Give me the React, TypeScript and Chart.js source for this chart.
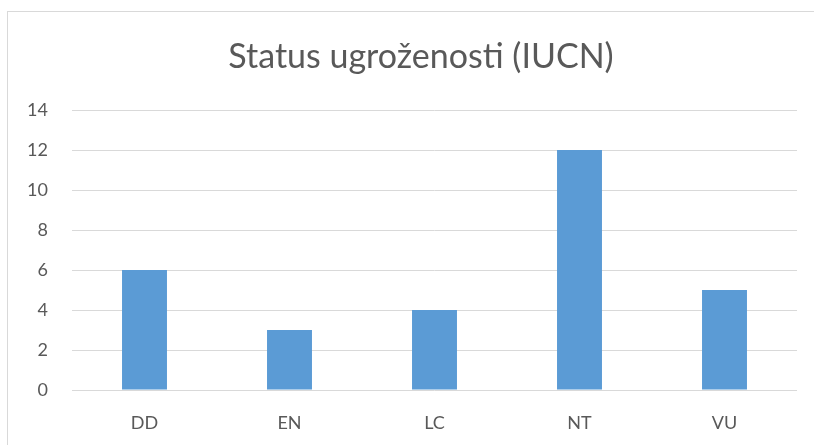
import React, { useEffect, useRef } from "react";
import { Chart, registerables } from "chart.js";

Chart.register(...registerables);

const titleText = "Status ugroženosti (IUCN)";
const categories = ["DD", "EN", "LC", "NT", "VU"];
const counts = [6, 3, 4, 12, 5];
const yMin = 0;
const yMax = 14;
const yStep = 2;

const FONT = "Lato, 'Open Sans', sans-serif";
const TEXT = "#595959";
const GRID = "#d9d9d9";
const BAR = "#5B9BD5";

const borderPlugin = {
  id: "outerBorder",
  beforeDraw(chart: any) {
    const ctx = chart.ctx;
    ctx.save();
    ctx.fillStyle = "#ffffff";
    ctx.fillRect(0, 0, chart.width, chart.height);
    ctx.strokeStyle = GRID;
    ctx.lineWidth = 1;
    ctx.strokeRect(7.5, 11.5, chart.width + 20, chart.height + 20);
    ctx.restore();
  },
};

// centre the title on the (partly cropped) chart frame rather than on the canvas
const titleShiftPlugin = {
  id: "titleShift",
  afterLayout(chart: any) {
    const t = chart.titleBlock;
    if (t) {
      t.left = 45;
      t.right = 797;
      t.width = t.right - t.left;
    }
  },
};

export default function App() {
  const ref = useRef<HTMLCanvasElement>(null);
  useEffect(() => {
    if (!ref.current) return;
    const chart = new Chart(ref.current, {
      type: "bar",
      data: {
        labels: categories,
        datasets: [
          {
            data: counts,
            backgroundColor: BAR,
            barPercentage: 0.31,
            categoryPercentage: 1,
          },
        ],
      },
      options: {
        animation: false,
        responsive: false,
        maintainAspectRatio: false,
        layout: { padding: { left: 0, right: 17, top: 0, bottom: 0 } },
        plugins: {
          legend: { display: false },
          tooltip: { enabled: false },
          title: {
            display: true,
            text: titleText,
            color: TEXT,
            font: { family: FONT, size: 34, weight: "normal", lineHeight: 1.2 },
            padding: { top: 37, bottom: 32.2 },
          },
        },
        scales: {
          x: {
            grid: { display: false, drawTicks: false },
            border: { display: false },
            ticks: {
              color: TEXT,
              font: { family: FONT, size: 18 },
              padding: 22,
            },
            afterFit: (s: any) => {
              s.height = 55;
            },
          },
          y: {
            min: yMin,
            max: yMax,
            ticks: {
              stepSize: yStep,
              color: TEXT,
              font: { family: FONT, size: 18 },
              padding: 24,
            },
            grid: { color: GRID, lineWidth: 1, drawTicks: false },
            border: { display: false },
            afterFit: (s: any) => {
              s.width = 72;
            },
          },
        },
      },
      plugins: [borderPlugin, titleShiftPlugin],
    });
    return () => chart.destroy();
  }, []);
  return (
    <div style={{ position: "fixed", left: 0, top: 0, width: 814, height: 445, overflow: "hidden" }}>
      <canvas ref={ref} width={814} height={445} style={{ display: "block" }} />
    </div>
  );
}
